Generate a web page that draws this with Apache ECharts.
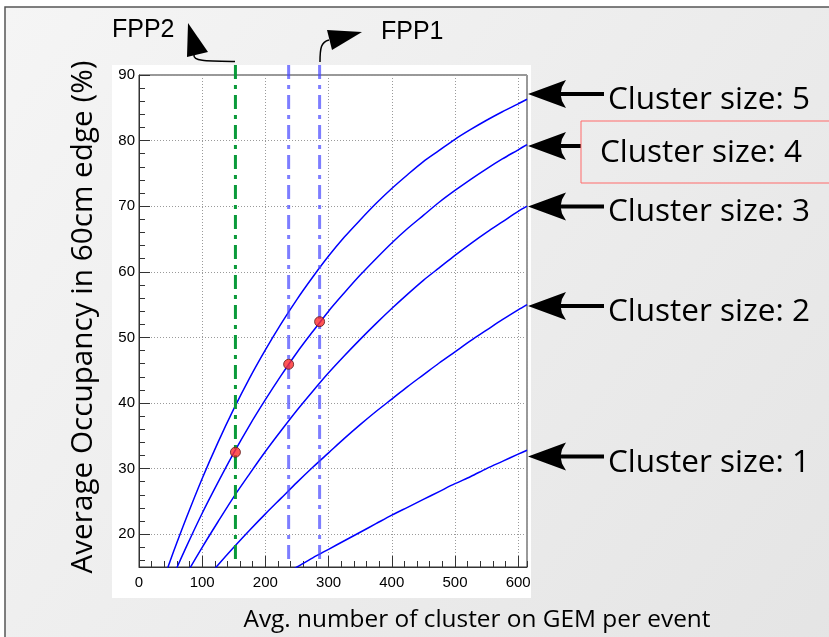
<!DOCTYPE html>
<html>
<head>
<meta charset="utf-8">
<script src="https://cdn.jsdelivr.net/npm/echarts@6/dist/echarts.min.js"></script>
<style>
  html, body { margin: 0; padding: 0; background: #ffffff; }
  #chart { width: 829px; height: 637px; }
</style>
</head>
<body>
<div id="chart"></div>
<script>
// Average number of clusters per event on the GEM (x values of the curves)
const clusterX = [0, 25, 50, 75, 100, 125, 150, 175, 200, 225, 250, 275, 300,
                  325, 350, 375, 400, 425, 450, 475, 500, 525, 550, 575, 600, 614];

// Average occupancy (%) in the 60cm edge for each cluster size
const size1 = [0.1, 1.7, 3.3, 4.8, 6.4, 7.9, 9.3, 10.8, 12.2, 13.6, 15.0, 16.4, 17.7,
               19.0, 20.3, 21.6, 22.9, 24.1, 25.3, 26.5, 27.7, 28.8, 30.0, 31.1, 32.2, 32.8];
const size2 = [0.4, 3.5, 6.6, 9.6, 12.5, 15.3, 18.0, 20.6, 23.1, 25.5, 27.9, 30.2, 32.4,
               34.6, 36.7, 38.7, 40.6, 42.5, 44.3, 46.1, 47.8, 49.5, 51.1, 52.7, 54.2, 55.0];
const size3 = [0.3, 5.1, 9.6, 13.9, 18.0, 21.9, 25.7, 29.2, 32.6, 35.8, 38.9, 41.8, 44.6,
               47.2, 49.7, 52.1, 54.4, 56.6, 58.7, 60.6, 62.5, 64.3, 66.0, 67.6, 69.2, 70.0];
const size4 = [0.8, 6.9, 12.7, 18.1, 23.2, 27.9, 32.4, 36.6, 40.5, 44.2, 47.7, 50.9, 54.0,
               56.8, 59.5, 62.0, 64.4, 66.6, 68.6, 70.6, 72.4, 74.1, 75.7, 77.2, 78.6, 79.4];
const size5 = [1.4, 9.0, 16.1, 22.5, 28.5, 34.0, 39.1, 43.8, 48.1, 52.1, 55.8, 59.2, 62.4,
               65.3, 67.9, 70.4, 72.7, 74.8, 76.8, 78.5, 80.2, 81.7, 83.1, 84.4, 85.6, 86.3];

// Working points (FPP2 = first, FPP1 = last) on the cluster size 4 curve
const fppX = [152.6, 236.8, 285.8];
const fppY = [32.5, 45.9, 52.4];

// Axis ranges
const xMin = 0, xMax = 614;
const yMin = 15, yMax = 90;

const chart = echarts.init(document.getElementById('chart'), null, { renderer: 'canvas' });

const tickFont = { fontFamily: 'Liberation Sans', fontSize: 15, color: '#000' };
const titleFont = '"Open Sans"';

function curve(name, ys) {
  return {
    name: name,
    type: 'line',
    data: clusterX.map((x, i) => [x, ys[i]]),
    smooth: 0.3,
    showSymbol: false,
    symbol: 'none',
    clip: true,
    lineStyle: { color: '#0000ff', width: 1.5 },
    z: 3
  };
}

function vline(color) {
  return function (params, api) {
    const x = api.value(0);
    const top = api.coord([x, yMax]);
    const bottom = api.coord([x, yMin]);
    return {
      type: 'line',
      shape: { x1: top[0], y1: top[1] - 10, x2: bottom[0], y2: bottom[1] - 3 },
      style: { stroke: color, lineWidth: 3, lineDash: [14, 6, 4, 6] }
    };
  };
}

function leftArrow(tipY, shaftEnd) {
  const tx = 528;
  return [
    {
      type: 'polygon',
      shape: { points: [[tx, tipY], [566, tipY - 14], [562, tipY - 7], [560.5, tipY],
                        [562, tipY + 7], [566, tipY + 14]] },
      style: { fill: '#000' },
      z: 10
    },
    {
      type: 'line',
      shape: { x1: 560, y1: tipY, x2: shaftEnd, y2: tipY },
      style: { stroke: '#000', lineWidth: 4 },
      z: 10
    }
  ];
}

function label(text, x, y) {
  return {
    type: 'text',
    x: x, y: y,
    style: { text: text, font: '31.5px ' + titleFont, fill: '#000', verticalAlign: 'middle', align: 'left' },
    z: 10
  };
}

const graphics = [
  // pad background with frame
  {
    type: 'rect',
    shape: { x: 5, y: 7, width: 900, height: 700 },
    style: {
      fill: new echarts.graphic.LinearGradient(0, 0, 1, 1, [
        { offset: 0, color: '#f5f5f5' },
        { offset: 1, color: '#e3e3e3' }
      ]),
      stroke: '#555', lineWidth: 1.5
    },
    z: -10
  },
  // white frame behind the plot
  {
    type: 'rect',
    shape: { x: 112, y: 65, width: 419, height: 533 },
    style: { fill: '#ffffff' },
    z: -9
  },
  // axis titles
  {
    type: 'text', x: 477, y: 620,
    style: {
      text: 'Avg. number of cluster on GEM per event',
      font: '24.4px ' + titleFont, fill: '#000', align: 'center', verticalAlign: 'middle'
    },
    z: 10
  },
  {
    type: 'text', x: 84, y: 317, rotation: Math.PI / 2,
    style: {
      text: 'Average Occupancy in 60cm edge (%)',
      font: '29.7px ' + titleFont, fill: '#000', align: 'center', verticalAlign: 'middle'
    },
    z: 10
  },
  // FPP2 annotation
  {
    type: 'text', x: 112, y: 30,
    style: { text: 'FPP2', font: '25px "Liberation Sans"', fill: '#000', verticalAlign: 'middle' },
    z: 10
  },
  {
    type: 'polygon',
    shape: { points: [[188, 23], [208, 52], [187, 57]] },
    style: { fill: '#000' }, z: 10
  },
  {
    type: 'bezierCurve',
    shape: { x1: 235, y1: 61.5, x2: 194, y2: 55, cpx1: 205, cpy1: 61, cpx2: 193, cpy2: 61 },
    style: { stroke: '#000', lineWidth: 1.5, fill: null }, z: 10
  },
  // FPP1 annotation
  {
    type: 'text', x: 381, y: 32,
    style: { text: 'FPP1', font: '25px "Liberation Sans"', fill: '#000', verticalAlign: 'middle' },
    z: 10
  },
  {
    type: 'polygon',
    shape: { points: [[327, 30], [362, 32], [332, 50]] },
    style: { fill: '#000' }, z: 10
  },
  {
    type: 'bezierCurve',
    shape: { x1: 320, y1: 62, x2: 329, y2: 40, cpx1: 320, cpy1: 48, cpx2: 321, cpy2: 42 },
    style: { stroke: '#000', lineWidth: 1.5, fill: null }, z: 10
  },
  // cluster size labels
  ...leftArrow(94, 604),
  label('Cluster size: 5', 608, 100),
  ...leftArrow(146, 581),
  {
    type: 'rect',
    shape: { x: 581, y: 121, width: 300, height: 62 },
    style: { fill: null, stroke: '#ff6a6a', lineWidth: 1 }, z: 10
  },
  label('Cluster size: 4', 600, 153),
  ...leftArrow(206.5, 604),
  label('Cluster size: 3', 608, 212),
  ...leftArrow(306, 604),
  label('Cluster size: 2', 608, 312),
  ...leftArrow(456.5, 604),
  label('Cluster size: 1', 608, 463)
];

const option = {
  animation: false,
  backgroundColor: 'transparent',
  grid: {
    left: 139, top: 75, right: 302, bottom: 70,
    show: true, borderColor: '#333', borderWidth: 1, backgroundColor: 'transparent'
  },
  xAxis: [
    {
      type: 'value', min: xMin, max: xMax, interval: 100,
      axisLine: { show: true, lineStyle: { color: '#333', width: 1 } },
      axisTick: { show: true, inside: true, length: 11, lineStyle: { color: '#333' } },
      axisLabel: { ...tickFont, margin: 8, showMaxLabel: false },
      splitLine: { show: true, lineStyle: { color: '#9a9a9a', type: [1, 2] } }
    },
    {
      // minor ticks every 20
      type: 'value', min: xMin, max: xMax, interval: 20, position: 'bottom',
      axisLine: { show: false },
      axisTick: { show: true, inside: true, length: 6, lineStyle: { color: '#333' } },
      axisLabel: { show: false },
      splitLine: { show: false }
    }
  ],
  yAxis: [
    {
      type: 'value', min: yMin, max: yMax, splitNumber: 8,
      axisLine: { show: true, lineStyle: { color: '#333', width: 1 } },
      axisTick: { show: true, inside: true, length: 11, lineStyle: { color: '#333' } },
      axisLabel: { ...tickFont, margin: 4, showMinLabel: false },
      splitLine: { show: true, lineStyle: { color: '#9a9a9a', type: [1, 2] } }
    },
    {
      // minor ticks every 2
      type: 'value', min: yMin, max: yMax, splitNumber: 37, position: 'left',
      axisLine: { show: false },
      axisTick: { show: true, inside: true, length: 6, lineStyle: { color: '#333' } },
      axisLabel: { show: false },
      splitLine: { show: false }
    }
  ],
  graphic: { elements: graphics },
  series: [
    curve('Cluster size: 1', size1),
    curve('Cluster size: 2', size2),
    curve('Cluster size: 3', size3),
    curve('Cluster size: 4', size4),
    curve('Cluster size: 5', size5),
    {
      name: 'FPP2', type: 'custom', renderItem: vline('#0a9a3a'),
      data: [[fppX[0], fppY[0]]], z: 4, silent: true
    },
    {
      name: 'FPP1', type: 'custom', renderItem: vline('rgba(70,70,255,0.7)'),
      data: [[fppX[1], fppY[1]], [fppX[2], fppY[2]]], z: 4, silent: true
    },
    {
      name: 'Working points', type: 'scatter',
      data: fppX.map((x, i) => [x, fppY[i]]),
      symbol: 'circle', symbolSize: 10,
      itemStyle: { color: '#ff2b2b', borderColor: '#5a1a1a', borderWidth: 1 },
      z: 6
    }
  ]
};

chart.setOption(option);
</script>
</body>
</html>
